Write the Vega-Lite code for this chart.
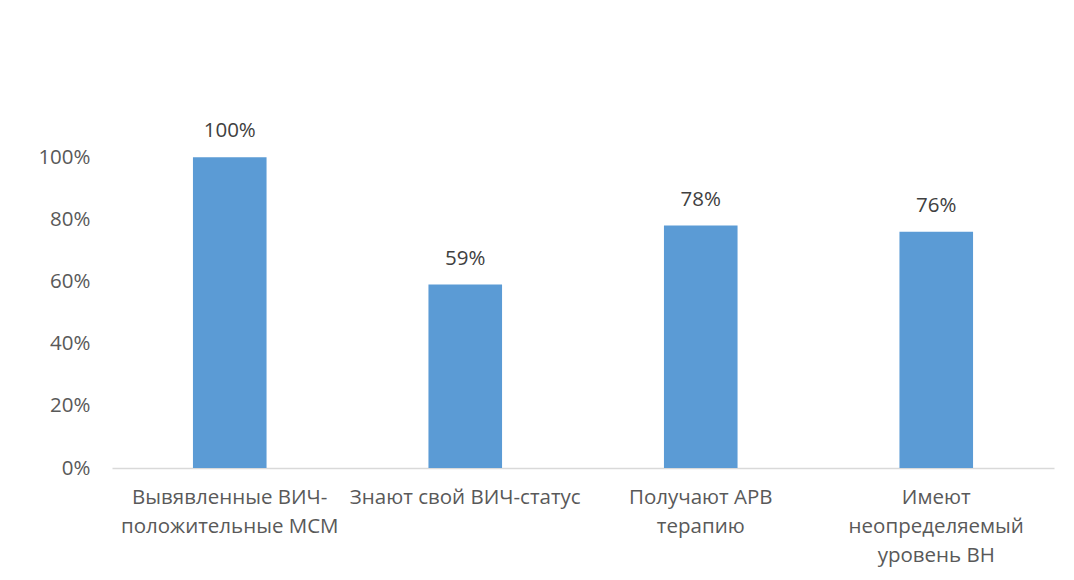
{
  "$schema": "https://vega.github.io/schema/vega-lite/v6.json",
  "width": 942,
  "height": 373,
  "autosize": {"type": "none"},
  "padding": {"left": 112, "top": 95, "right": 20, "bottom": 112},
  "background": "white",
  "config": {
    "view": {"stroke": null},
    "font": "Open Sans",
    "axis": {
      "labelFont": "Open Sans",
      "labelFontSize": 20.5,
      "labelColor": "#595959",
      "grid": false,
      "ticks": false,
      "title": null
    }
  },
  "data": {
    "values": [
      {"group": "Вывявленные ВИЧ-|положительные МСМ", "share": 1.00},
      {"group": "Знают свой ВИЧ-статус", "share": 0.59},
      {"group": "Получают АРВ|терапию", "share": 0.78},
      {"group": "Имеют|неопределяемый|уровень ВН", "share": 0.76}
    ]
  },
  "encoding": {
    "x": {
      "field": "group",
      "type": "nominal",
      "sort": null,
      "scale": {"paddingInner": 0.6875, "paddingOuter": 0.34375},
      "axis": {
        "labelAngle": 0,
        "labelPadding": 19,
        "labelBaseline": "top",
        "labelLineHeight": 29,
        "labelLimit": 0,
        "labelExpr": "split(datum.value, '|')",
        "domainColor": "#d9d9d9",
        "domainWidth": 1.5
      }
    },
    "y": {
      "field": "share",
      "type": "quantitative",
      "scale": {"domain": [0, 1.2], "nice": false},
      "axis": {
        "values": [0, 0.2, 0.4, 0.6, 0.8, 1],
        "format": ".0%",
        "domain": false,
        "labelPadding": 22
      }
    }
  },
  "layer": [
    {"mark": {"type": "bar", "color": "#5b9bd5"}},
    {
      "mark": {
        "type": "text",
        "baseline": "middle",
        "dy": -26,
        "fontSize": 20.5,
        "color": "#404040"
      },
      "encoding": {"text": {"field": "share", "type": "quantitative", "format": ".0%"}}
    }
  ]
}
